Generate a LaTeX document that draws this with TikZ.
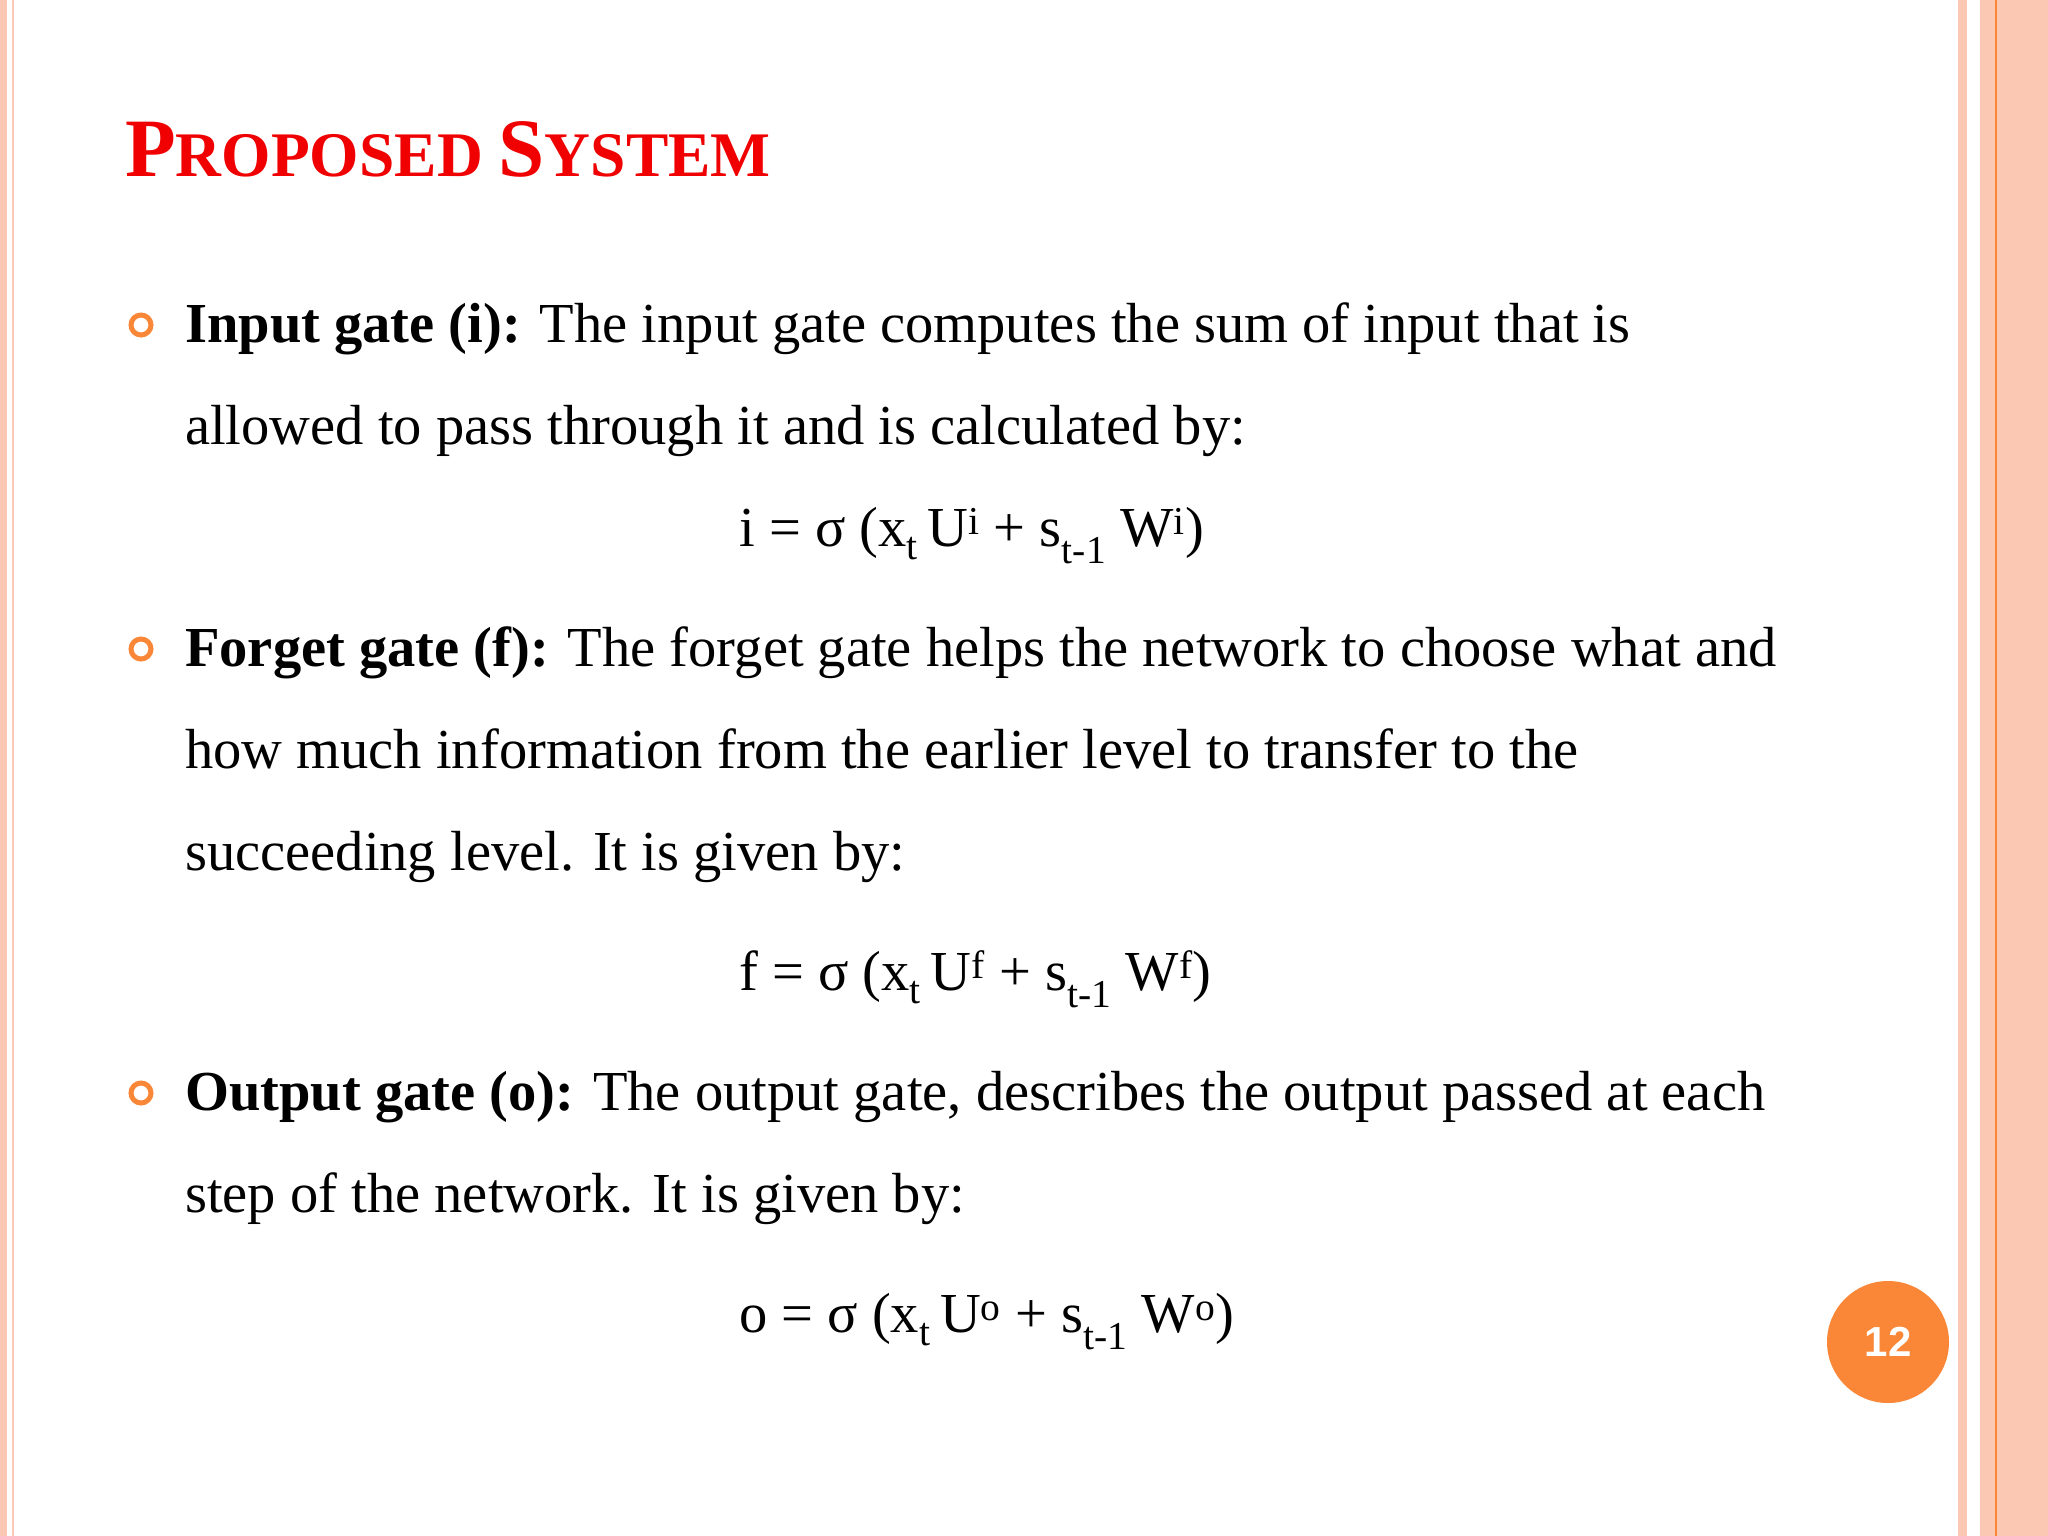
\documentclass[tikz,border=0pt]{standalone}
\usepackage{fontspec}
\setmainfont{Liberation Serif}
\newfontfamily\numfont{Liberation Sans}
\definecolor{salmon}{RGB}{251,200,180}
\definecolor{org}{RGB}{250,135,55}
\definecolor{ttl}{RGB}{240,0,0}
\tikzset{body/.style={anchor=base west,inner sep=0,font=\fontsize{56.5}{56.5}\selectfont},
bul/.style={circle,draw=org,line width=5pt,minimum size=20pt,inner sep=0}}
\newcommand{\sbt}[1]{\textsubscript{#1}}
\newcommand{\spt}[1]{\raisebox{0.05em}{\textsuperscript{#1}}}
\begin{document}
\begin{tikzpicture}[x=1pt,y=-1pt]
\useasboundingbox (0,0) rectangle (2048,1536);
\fill[white] (0,0) rectangle (2048,1536);
\fill[salmon] (0,0) rectangle (7,1536);
\draw[salmon,line width=2pt] (13,0) -- (13,1536);
\fill[salmon] (1958,0) rectangle (1967,1536);
\fill[salmon] (1980,0) rectangle (2048,1536);
\draw[org,line width=1.5pt] (1996,0) -- (1996,1536);
\node[anchor=base west,inner sep=0,text=ttl,font=\bfseries] (title) at (125,176)
 {\fontsize{83}{83}\selectfont P\fontsize{63.5}{63.5}\selectfont ROPOSED \fontsize{83}{83}\selectfont S\fontsize{63.5}{63.5}\selectfont YSTEM};
\node[bul] (b1) at (141,325) {};
\node[bul] (b2) at (141,649) {};
\node[bul] (b3) at (141,1093) {};
\node[body] (t1) at (185,342) {\textbf{Input gate (i):} The input gate computes the sum of input that is};
\node[body] (t2) at (185,444) {allowed to pass through it and is calculated by:};
\node[body] (e1) at (739,546) {i = σ (x\sbt{t}\,U\spt{i} + s\sbt{t-1} W\spt{i})};
\node[body] (t3) at (185,666) {\textbf{Forget gate (f):} The forget gate helps the network to choose what and};
\node[body] (t4) at (185,768) {how much information from the earlier level to transfer to the};
\node[body] (t5) at (185,870) {succeeding level. It is given by:};
\node[body] (e2) at (739,990) {f = σ (x\sbt{t}\,U\spt{f} + s\sbt{t-1} W\spt{f})};
\node[body] (t6) at (185,1110) {\textbf{Output gate (o):} The output gate, describes the output passed at each};
\node[body] (t7) at (185,1212) {step of the network. It is given by:};
\node[body] (e3) at (739,1332) {o = σ (x\sbt{t}\,U\spt{o} + s\sbt{t-1} W\spt{o})};
\node[circle,fill=org,minimum size=122pt,inner sep=0,text=white,font=\numfont\bfseries\fontsize{42}{42}\selectfont] (pg) at (1888,1342) {12};
\end{tikzpicture}
\end{document}
